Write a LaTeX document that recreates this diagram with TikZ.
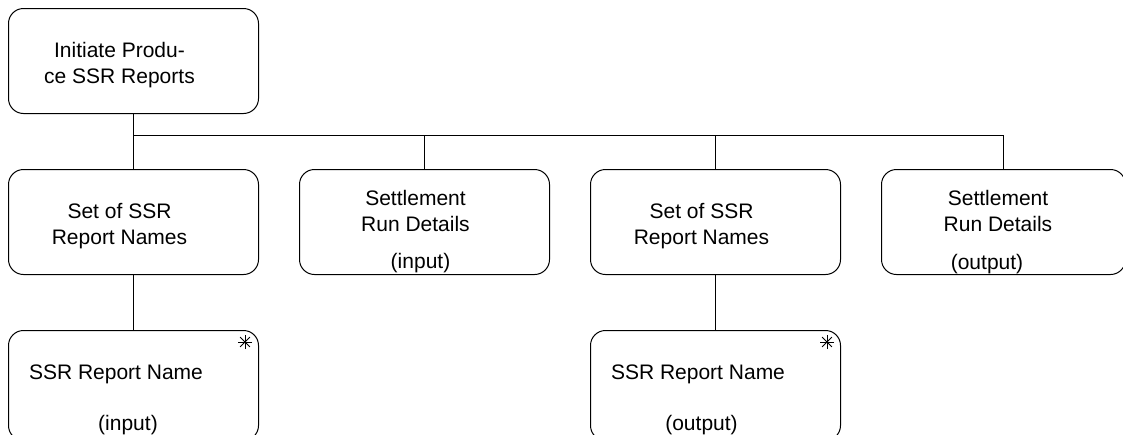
\documentclass[tikz,border=0pt]{standalone}
\usepackage{fontspec}
\setmainfont{Liberation Sans}
\usetikzlibrary{positioning}

\begin{document}
\begin{tikzpicture}[
  x=0.5pt, y=-0.5pt,
  box/.style={draw, rounded corners=7.5pt, minimum width=125pt, minimum height=52.5pt, inner sep=0pt, line width=0.5pt},
  lowbox/.style={box, minimum height=55pt},
  txt/.style={align=center, inner sep=0pt, font=\fontsize{10.5}{13}\selectfont},
  link/.style={line width=0.5pt}
]
\useasboundingbox (0,0) rectangle (1123,434);
\clip (0,0) rectangle (1123,434);

\node[box, anchor=north west] (init) at (8,8) {};
\node[box, below=27.5pt of init] (setin) {};
\node[box, right=20pt of setin] (runin) {};
\node[box, right=20pt of runin] (setout) {};
\node[box, right=20pt of setout, minimum width=122pt] (runout) {};
\node[lowbox, below=27.5pt of setin] (namein) {};
\node[lowbox, below=27.5pt of setout] (nameout) {};

% texts inside the boxes
\node[txt] (initT) at ([shift={(-14,4.5)}]init.center) {Initiate Produ-\\ce SSR Reports};
\node[txt] (setinT) at ([shift={(-14,4)}]setin.center) {Set of SSR\\Report Names};
\node[txt] (runinT) at ([shift={(-9,-11.5)}]runin.center) {Settlement\\Run Details};
\node[txt] (runinL) at ([shift={(-4,41)}]runin.center) {(input)};
\node[txt] (setoutT) at ([shift={(-14,4)}]setout.center) {Set of SSR\\Report Names};
\node[txt] (runoutT) at ([shift={(-5.5,-11.5)}]runout.center) {Settlement\\Run Details};
\node[txt] (runoutL) at ([shift={(-16.5,42)}]runout.center) {(output)};
\node[txt] (nameinT) at ([shift={(-17.5,-11)}]namein.center) {SSR Report Name};
\node[txt] (nameinL) at ([shift={(-5.5,39.5)}]namein.center) {(input)};
\node[txt] (nameoutT) at ([shift={(-17.5,-11)}]nameout.center) {SSR Report Name};
\node[txt] (nameoutL) at ([shift={(-14,39.5)}]nameout.center) {(output)};

% iteration marks
\coordinate (starin) at ([shift={(-14,12)}]namein.north east);
\coordinate (starout) at ([shift={(-14,12)}]nameout.north east);
\foreach \s in {starin,starout}
  \foreach \a in {0,45,90,135}
    \draw[line width=0.4pt] (\s) ++(\a:7) -- ++(\a+180:14);

% tree lines
\coordinate (bus) at ([shift={(0,21)}]init.south);
\draw[link] (init.south) -- (setin.north);
\draw[link] (bus) -| (runin.north);
\draw[link] (bus) -| (setout.north);
\draw[link] (bus) -| (runout.north);
\draw[link] (setin.south) -- (namein.north);
\draw[link] (setout.south) -- (nameout.north);

\end{tikzpicture}
\end{document}
